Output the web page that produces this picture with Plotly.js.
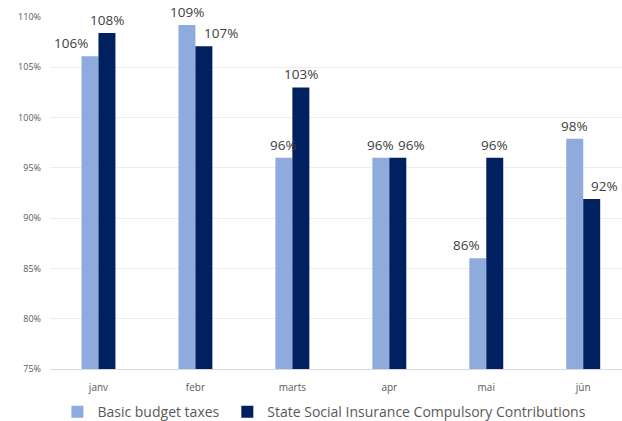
<!DOCTYPE html>
<html>
<head>
<meta charset="utf-8">
<script src="https://cdn.plot.ly/plotly-3.0.1.min.js"></script>
<style>html,body{margin:0;padding:0;background:#fff;}#chart{width:622px;height:421px;}</style>
</head>
<body>
<div id="chart"></div>
<script>
const months = ["janv", "febr", "marts", "apr", "mai", "jūn"];
const basicTaxes = [106.1, 109.2, 96.0, 96.0, 86.0, 97.9];
const socialContrib = [108.4, 107.1, 103.0, 96.0, 96.0, 91.9];
const basicLabels = ["106%", "109%", "96%", "96%", "86%", "98%"];
const socialLabels = ["108%", "107%", "103%", "96%", "96%", "92%"];
const seriesNames = ["Basic budget taxes", "State Social Insurance Compulsory Contributions"];

const lightCol = "#8FAADC", darkCol = "#002060";

const traces = [
  {type: "bar", x: months, y: basicTaxes, name: seriesNames[0], marker: {color: lightCol}, hoverinfo: "skip", legend: "legend"},
  {type: "bar", x: months, y: socialContrib, name: seriesNames[1], marker: {color: darkCol}, hoverinfo: "skip", legend: "legend2"}
];

// label horizontal nudges (pixels) relative to own bar centre
const basicNudge = [-19, 0, 0, 0, -11.5, 0];
const socialNudge = [0, 17.5, 0, 13.5, 0, 12.5];
const half = 8.5;
const annotations = [];
months.forEach((m, i) => {
  annotations.push({x: m, y: basicTaxes[i], text: basicLabels[i], showarrow: false, xanchor: "center", yanchor: "bottom",
    xshift: -half + basicNudge[i], yshift: 2, font: {family: "Open Sans, sans-serif", size: 13.5, color: "#404040"}});
  annotations.push({x: m, y: socialContrib[i], text: socialLabels[i], showarrow: false, xanchor: "center", yanchor: "bottom",
    xshift: half + socialNudge[i], yshift: 2, font: {family: "Open Sans, sans-serif", size: 13.5, color: "#404040"}});
});

const legendBase = {orientation: "h", xref: "paper", xanchor: "left", yref: "container", y: 0.021, yanchor: "middle",
  bgcolor: "rgba(0,0,0,0)", font: {size: 14, color: "#595959"}, itemwidth: 30};

const layout = {
  width: 622, height: 421,
  margin: {l: 49.5, r: 0, t: 17, b: 52, pad: 0, autoexpand: false},
  paper_bgcolor: "#fff", plot_bgcolor: "#fff",
  barmode: "group", bargap: 0.65, bargroupgap: 0,
  font: {family: "Open Sans, sans-serif", color: "#595959"},
  xaxis: {type: "category", range: [-0.5, 5.4], showgrid: false, showline: true, linecolor: "#D9D9D9", linewidth: 1,
    ticks: "", tickfont: {size: 10, color: "#595959"}, ticklabelstandoff: 9, fixedrange: true},
  yaxis: {range: [75, 110], dtick: 5, tick0: 75, ticksuffix: "%", showgrid: true, gridcolor: "#EDEDED", gridwidth: 1,
    zeroline: false, showline: false, ticks: "", tickfont: {size: 9, color: "#595959"}, ticklabelstandoff: 8, fixedrange: true},
  showlegend: true,
  legend: Object.assign({}, legendBase, {x: 0.013}),
  legend2: Object.assign({}, legendBase, {x: 0.31}),
  annotations: annotations
};

Plotly.newPlot("chart", traces, layout, {displayModeBar: false, staticPlot: true});
</script>
</body>
</html>
